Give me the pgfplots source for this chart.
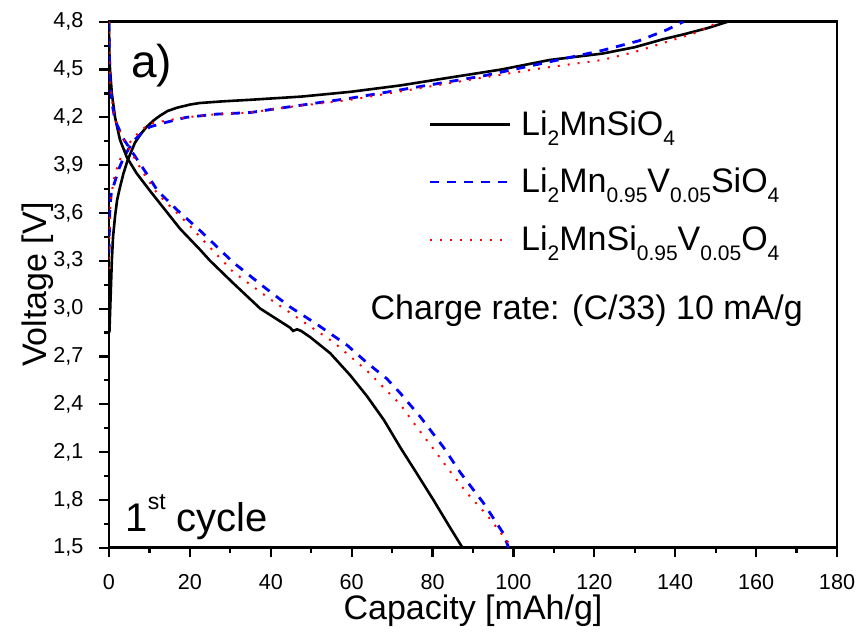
\documentclass[border=0pt]{standalone}
\usepackage{pgfplots}
\pgfplotsset{compat=1.18}
\usepackage{fontspec}
\setmainfont{Liberation Sans}
\newcommand{\sub}[1]{\raisebox{-5pt}{\fontsize{10.5}{10.5}\selectfont #1}}
\definecolor{pblue}{RGB}{0,0,255}
\definecolor{pred}{RGB}{255,0,0}
\begin{document}
\begin{tikzpicture}
\begin{axis}[
  scale only axis, width=364pt, height=263pt,
  xmin=0, xmax=180, ymin=1.5, ymax=4.8,
  xtick={0,20,...,180},
  ytick={1.5,1.8,2.1,2.4,2.7,3.0,3.3,3.6,3.9,4.2,4.5,4.8},
  minor x tick num=1, minor y tick num=1,
  xtick pos=bottom, ytick pos=left,
  tick align=outside,
  major tick length=4.8pt, minor tick length=2.5pt,
  axis line style={line width=1.3pt},
  every tick/.style={line width=1.1pt, black},
  /pgf/number format/assume math mode=true,
  yticklabel style={xshift=-4.5pt, /pgf/number format/.cd, fixed, fixed zerofill, precision=1, use comma},
  xticklabel style={yshift=-5pt},
  ticklabel style={font=\fontsize{10.8}{13}\selectfont},
  label style={font=\fontsize{17}{20}\selectfont},
  xlabel={Capacity [mAh/g]}, ylabel={Voltage [V]},
  xlabel style={at={(axis description cs:0.5,-0.1369)}, anchor=base},
  ylabel style={at={(axis description cs:-0.0852,0.5)}, anchor=base},
  legend style={draw=none, fill=none, at={(0.43,0.845)}, anchor=north west,
    font=\fontsize{17}{20}\selectfont, row sep=12pt, column sep=3.5pt, nodes={inner sep=1.5pt}},
  legend cell align=left,
  legend image code/.code={\draw[#1] (0pt,0pt) -- (40pt,0pt);},
]
% Li2MnSiO4 charge
\addplot[black, line width=1.3pt] coordinates {
(0.1,2.85)(0.3,3.0)(0.5,3.15)(0.7,3.3)(1.0,3.45)(1.5,3.58)(2.0,3.68)(2.7,3.76)(3.6,3.85)(4.6,3.93)(6.4,4.04)(8,4.10)(9.3,4.14)(11,4.18)(12.6,4.21)(14.5,4.24)(16.8,4.26)(20,4.28)(22.5,4.29)(28,4.30)(34.9,4.31)(47.5,4.33)(59.7,4.36)(72,4.40)(84.4,4.45)(97,4.50)(109,4.56)(122,4.60)(130,4.64)(137,4.69)(142,4.72)(148,4.76)(153,4.80)};
\addlegendentry{Li\sub{2}MnSiO\sub{4}}
% Li2Mn0.95V0.05SiO4 charge
\addplot[pblue, line width=1.4pt, dash pattern=on 4.5pt off 4pt] coordinates {
(0,3.35)(0.1,3.5)(0.25,3.65)(0.6,3.73)(1.5,3.80)(2.5,3.88)(3.5,3.94)(4.8,4.0)(6,4.05)(8,4.10)(10.1,4.14)(14.3,4.17)(19.1,4.20)(26.6,4.22)(34.9,4.23)(43,4.26)(59.7,4.32)(76.2,4.39)(92.6,4.46)(107.4,4.54)(122,4.62)(131,4.68)(138,4.75)(142,4.80)};
\addlegendentry{Li\sub{2}Mn\sub{0.95}V\sub{0.05}SiO\sub{4}}
% Li2MnSi0.95V0.05O4 charge
\addplot[pred, line width=1pt, dash pattern=on 1pt off 4pt] coordinates {
(0,3.25)(0.1,3.45)(0.25,3.6)(0.6,3.72)(1.3,3.82)(2.3,3.91)(3.5,3.98)(4.8,4.03)(6,4.07)(8,4.12)(10.1,4.16)(14.3,4.18)(19.1,4.20)(26.6,4.22)(34.9,4.23)(43,4.26)(59.7,4.31)(76.2,4.38)(92.6,4.45)(107.4,4.51)(122,4.56)(130,4.61)(140,4.69)(145,4.73)(151,4.80)};
\addlegendentry{Li\sub{2}MnSi\sub{0.95}V\sub{0.05}O\sub{4}}
% discharges
\addplot[black, line width=1.3pt, forget plot] coordinates {
(0,4.8)(0.1,4.6)(0.25,4.5)(0.7,4.35)(1.5,4.2)(2.7,4.06)(4.4,3.95)(6.8,3.85)(10.1,3.74)(15.1,3.58)(17.6,3.50)(22.5,3.37)(25,3.30)(30.7,3.16)(37.4,3.00)(44.8,2.88)(45.5,2.86)(46.5,2.87)(47.5,2.86)(49.8,2.82)(54.7,2.72)(59.7,2.58)(63.8,2.45)(68,2.30)(72,2.13)(76,1.97)(80.2,1.80)(84,1.64)(87.4,1.5)};
\addplot[pblue, line width=1.4pt, dash pattern=on 4.5pt off 4pt, forget plot] coordinates {
(0,4.8)(0.1,4.6)(0.3,4.4)(0.8,4.28)(1.5,4.18)(3.7,4.06)(5.8,3.98)(8.7,3.87)(12,3.74)(16.8,3.62)(22.5,3.49)(30.7,3.29)(38.1,3.14)(44.8,3.01)(51.5,2.90)(58.9,2.77)(63.8,2.66)(68.7,2.56)(72,2.47)(77,2.32)(82.7,2.13)(86.9,1.97)(92.6,1.78)(97.5,1.59)(98.8,1.5)};
\addplot[pred, line width=1pt, dash pattern=on 1pt off 4pt, forget plot] coordinates {
(0,4.8)(0.1,4.6)(0.3,4.42)(0.8,4.3)(1.3,4.2)(3.2,4.08)(5.5,3.98)(8.5,3.85)(12,3.72)(14.4,3.66)(20,3.52)(22.5,3.45)(30.7,3.23)(39.8,3.06)(47.3,2.93)(55.5,2.79)(63.8,2.61)(72,2.40)(76,2.26)(80.2,2.12)(84,1.99)(88.6,1.84)(93.6,1.70)(98.8,1.53)(99.3,1.5)};
\node[anchor=base west, inner sep=0, font=\fontsize{23}{23}\selectfont] at (axis cs:5.4,4.447) {a)};
\node[anchor=base west, inner sep=0, font=\fontsize{17}{20}\selectfont] at (axis cs:64.6,2.929) {Charge rate: (C/33) 10 mA/g};
\node[anchor=base west, inner sep=0, font=\fontsize{20}{20}\selectfont] at (axis cs:4.0,1.60) {1\raisebox{11pt}{\fontsize{11.5}{11.5}\selectfont st} cycle};
\end{axis}
\pgfresetboundingbox
\path[use as bounding box] ([xshift=-54.5pt,yshift=-47.15pt]current axis.south west) rectangle ([xshift=11.5pt,yshift=10.85pt]current axis.north east);
\end{tikzpicture}
\end{document}
